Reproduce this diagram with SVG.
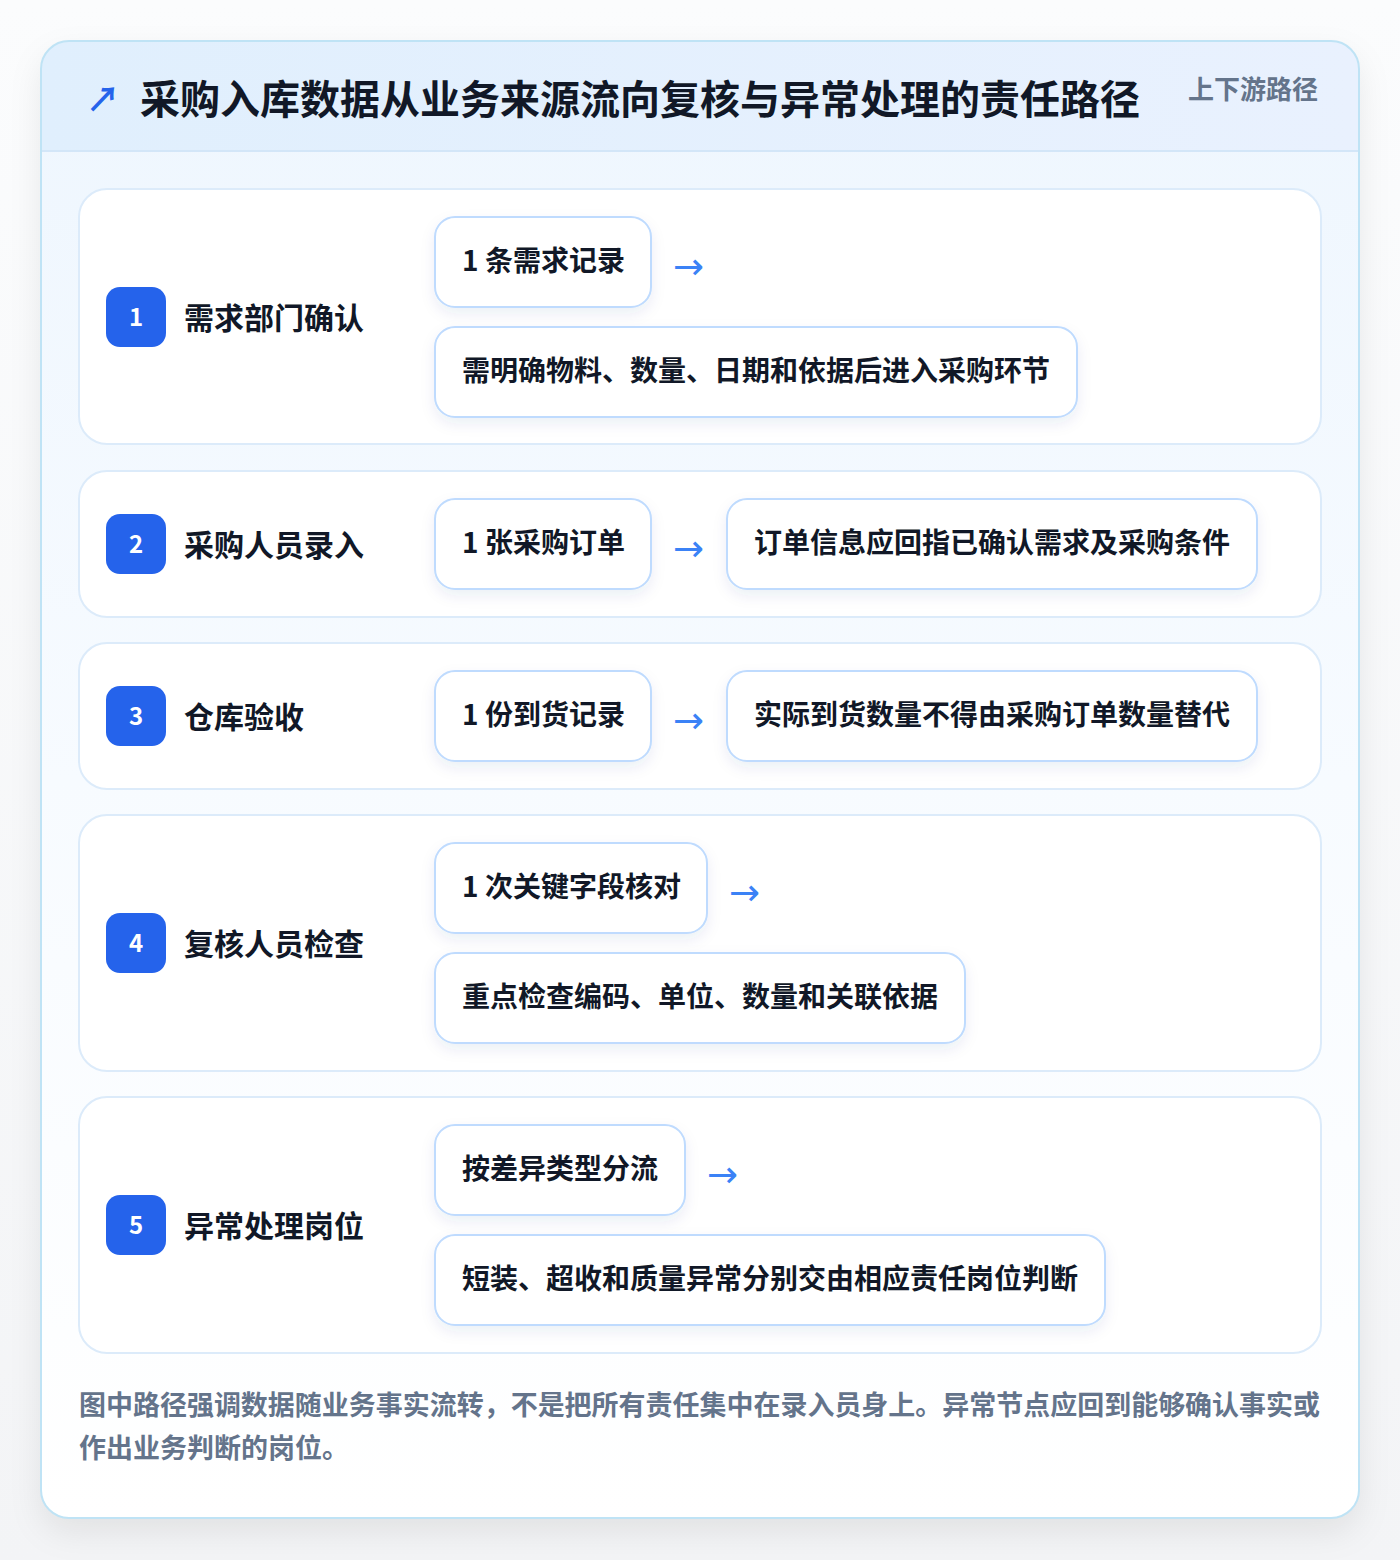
<svg xmlns="http://www.w3.org/2000/svg" width="1400" height="1560" viewBox="0 0 1400 1560">
<defs>
<linearGradient id="bg" x1="0" y1="0" x2="0" y2="1"><stop offset="0" stop-color="#fbfcfd"/><stop offset="1" stop-color="#f3f4f6"/></linearGradient>
<linearGradient id="card" x1="0" y1="0" x2="0" y2="1"><stop offset="0" stop-color="#eef6fe"/><stop offset="0.5" stop-color="#f7fbff"/><stop offset="1" stop-color="#ffffff"/></linearGradient>
<linearGradient id="head" x1="0" y1="0" x2="1" y2="0"><stop offset="0" stop-color="#e0effd"/><stop offset="1" stop-color="#e9f1fe"/></linearGradient>
<filter id="sh" x="-10%" y="-10%" width="120%" height="125%"><feDropShadow dx="0" dy="14" stdDeviation="16" flood-color="#0f172a" flood-opacity="0.08"/></filter>
<filter id="csh" x="-10%" y="-20%" width="120%" height="160%"><feDropShadow dx="0" dy="6" stdDeviation="7" flood-color="#1e3a8a" flood-opacity="0.08"/></filter>
<clipPath id="cc"><rect x="41" y="41" width="1318" height="1477" rx="28"/></clipPath>
<style>
.t{font-family:"Noto Sans CJK SC","Noto Sans",sans-serif;font-weight:700}
.row{fill:#ffffff;stroke:#dcebfa;stroke-width:2}
.chip{fill:#ffffff;stroke:#bfdbfe;stroke-width:2;filter:url(#csh)}
.badge{fill:#2563eb}
.bn{fill:#ffffff;font-size:24px;text-anchor:middle}
.lab{fill:#111827;font-size:30px}
.ct{fill:#111827;font-size:28px}
.arr{fill:#3b82f6;font-size:37px;font-family:"DejaVu Sans",sans-serif}
</style>
</defs>
<rect width="1400" height="1560" fill="url(#bg)"/>
<g id="card-frame">
<rect x="41" y="41" width="1318" height="1477" rx="28" fill="url(#card)" filter="url(#sh)"/>
<g clip-path="url(#cc)">
<rect x="41" y="41" width="1318" height="111" fill="url(#head)"/>
<line x1="41" y1="151" x2="1359" y2="151" stroke="#d3e6f8" stroke-width="2"/>
</g>
<rect x="41" y="41" width="1318" height="1477" rx="28" fill="none" stroke="#bfe3f5" stroke-width="2"/>
</g>
<g id="title">
<text class="t" x="86" y="112" font-size="34" fill="#2563eb" font-family="DejaVu Sans,sans-serif">↗</text>
<text class="t" x="140" y="114" font-size="40" fill="#111827">采购入库数据从业务来源流向复核与异常处理的责任路径</text>
<text class="t" x="1188" y="99" font-size="26" fill="#64748b">上下游路径</text>
</g>
<g id="row1">
<rect class="row" x="79" y="189" width="1242" height="255" rx="28"/>
<rect class="badge" x="106" y="287" width="60" height="60" rx="14"/>
<text class="t bn" x="136" y="326">1</text>
<text class="t lab" x="184" y="329">需求部门确认</text>
<rect class="chip" x="435" y="217" width="216" height="90" rx="20"/>
<text class="t ct" x="462" y="271">1 条需求记录</text>
<rect class="chip" x="435" y="327" width="642" height="90" rx="20"/>
<text class="t ct" x="462" y="381">需明确物料、数量、日期和依据后进入采购环节</text>
</g>
<g id="row2">
<rect class="row" x="79" y="471" width="1242" height="146" rx="28"/>
<rect class="badge" x="106" y="514" width="60" height="60" rx="14"/>
<text class="t bn" x="136" y="553">2</text>
<text class="t lab" x="184" y="556">采购人员录入</text>
<rect class="chip" x="435" y="499" width="216" height="90" rx="20"/>
<text class="t ct" x="462" y="553">1 张采购订单</text>
<rect class="chip" x="727" y="499" width="530" height="90" rx="20"/>
<text class="t ct" x="754" y="553">订单信息应回指已确认需求及采购条件</text>
</g>
<g id="row3">
<rect class="row" x="79" y="643" width="1242" height="146" rx="28"/>
<rect class="badge" x="106" y="686" width="60" height="60" rx="14"/>
<text class="t bn" x="136" y="725">3</text>
<text class="t lab" x="184" y="728">仓库验收</text>
<rect class="chip" x="435" y="671" width="216" height="90" rx="20"/>
<text class="t ct" x="462" y="725">1 份到货记录</text>
<rect class="chip" x="727" y="671" width="530" height="90" rx="20"/>
<text class="t ct" x="754" y="725">实际到货数量不得由采购订单数量替代</text>
</g>
<g id="row4">
<rect class="row" x="79" y="815" width="1242" height="256" rx="28"/>
<rect class="badge" x="106" y="913" width="60" height="60" rx="14"/>
<text class="t bn" x="136" y="952">4</text>
<text class="t lab" x="184" y="955">复核人员检查</text>
<rect class="chip" x="435" y="843" width="272" height="90" rx="20"/>
<text class="t ct" x="462" y="897">1 次关键字段核对</text>
<rect class="chip" x="435" y="953" width="530" height="90" rx="20"/>
<text class="t ct" x="462" y="1007">重点检查编码、单位、数量和关联依据</text>
</g>
<g id="row5">
<rect class="row" x="79" y="1097" width="1242" height="256" rx="28"/>
<rect class="badge" x="106" y="1195" width="60" height="60" rx="14"/>
<text class="t bn" x="136" y="1234">5</text>
<text class="t lab" x="184" y="1237">异常处理岗位</text>
<rect class="chip" x="435" y="1125" width="250" height="90" rx="20"/>
<text class="t ct" x="462" y="1179">按差异类型分流</text>
<rect class="chip" x="435" y="1235" width="670" height="90" rx="20"/>
<text class="t ct" x="462" y="1289">短装、超收和质量异常分别交由相应责任岗位判断</text>
</g>
<g id="connectors">
<text class="arr" x="673" y="279">→</text>
<text class="arr" x="673" y="561">→</text>
<text class="arr" x="673" y="733">→</text>
<text class="arr" x="729" y="905">→</text>
<text class="arr" x="707" y="1187">→</text>
</g>
<g id="footer">
<text class="t" x="79" y="1415" font-size="27" fill="#64748b" textLength="1241" lengthAdjust="spacingAndGlyphs">图中路径强调数据随业务事实流转，不是把所有责任集中在录入员身上。异常节点应回到能够确认事实或</text>
<text class="t" x="79" y="1458" font-size="27" fill="#64748b">作出业务判断的岗位。</text>
</g>
</svg>
